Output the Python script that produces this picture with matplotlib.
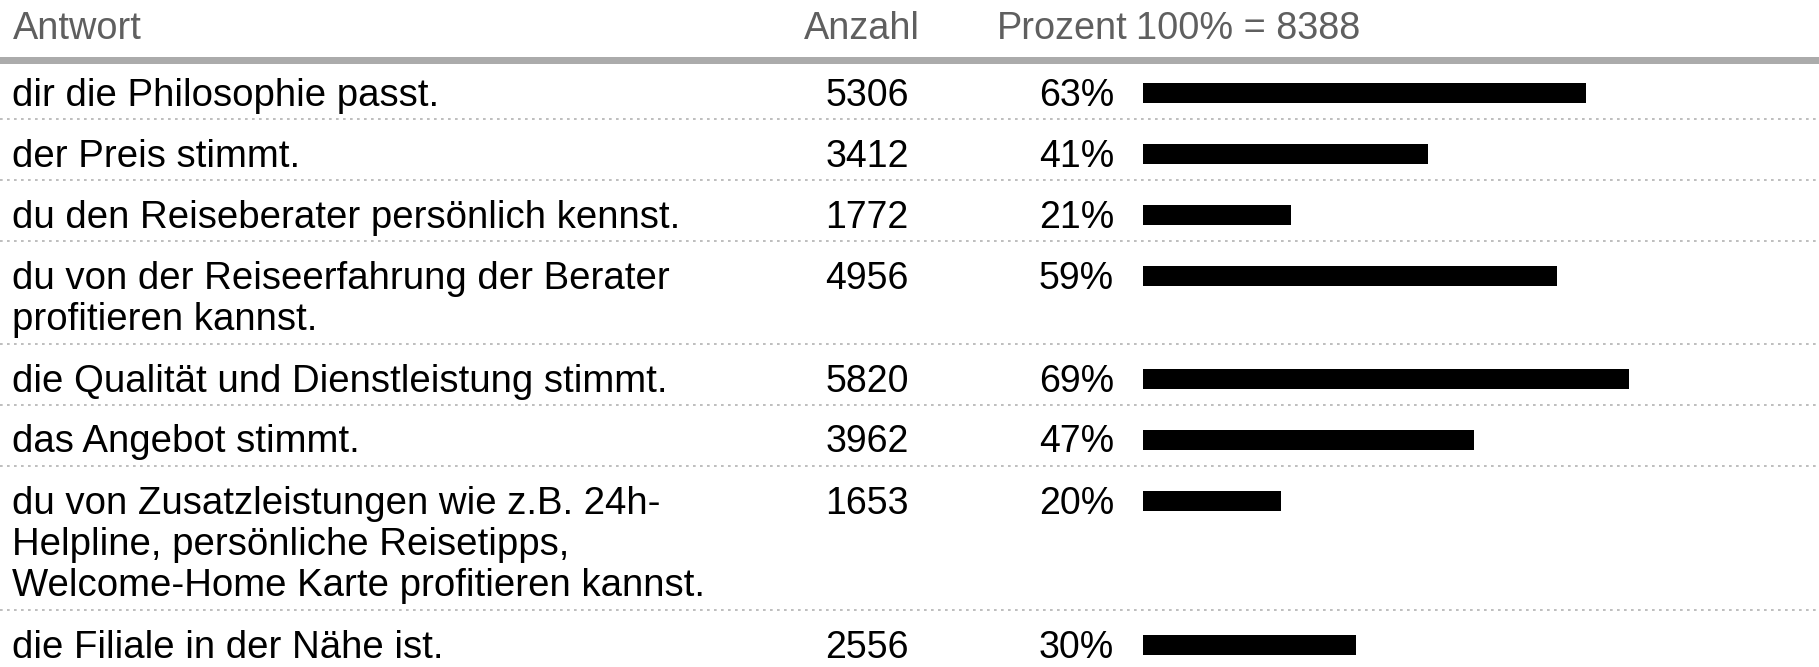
import matplotlib
matplotlib.use("Agg")
import matplotlib.pyplot as plt

# ---- data ----
answers = [
    "dir die Philosophie passt.",
    "der Preis stimmt.",
    "du den Reiseberater persönlich kennst.",
    "du von der Reiseerfahrung der Berater\nprofitieren kannst.",
    "die Qualität und Dienstleistung stimmt.",
    "das Angebot stimmt.",
    "du von Zusatzleistungen wie z.B. 24h-\nHelpline, persönliche Reisetipps,\nWelcome-Home Karte profitieren kannst.",
    "die Filiale in der Nähe ist.",
]
counts = [5306, 3412, 1772, 4956, 5820, 3962, 1653, 2556]
total = 8388
headers = ["Antwort", "Anzahl", "Prozent", "100% = 8388"]

# ---- layout (pixels) ----
W, H = 1819, 667
DPI = 100
FS = 27
FS_LBL = 27.6
FS_HDR = 27.3
FONT = "Liberation Sans"
LINE_H = 41.5
PAD = 19.5
FIRST_TOP = 58
BAR_LEFT = 1143
PX_PER_PCT = 7.0
BAR_H = 20

fig = plt.figure(figsize=(W / DPI, H / DPI), dpi=DPI)
ax = fig.add_axes([0, 0, 1, 1])
ax.set_xlim(0, W)
ax.set_ylim(H, 0)
ax.axis("off")

bax = fig.add_axes([BAR_LEFT / W, 0, (W - BAR_LEFT) / W, 1])
bax.set_xlim(0, (W - BAR_LEFT) / PX_PER_PCT)
bax.set_ylim(H, 0)
bax.axis("off")
bax.patch.set_alpha(0)

# header
hdr_base = 39
hcol = "#5f5f5f"
ax.text(13, hdr_base, headers[0], fontsize=FS_HDR, family=FONT, color=hcol, va="baseline", ha="left")
ax.text(862, hdr_base, headers[1], fontsize=FS_HDR, family=FONT, color=hcol, va="baseline", ha="center")
ax.text(1128, hdr_base, headers[2], fontsize=FS_HDR, family=FONT, color=hcol, va="baseline", ha="right")
ax.text(1136, hdr_base, headers[3], fontsize=FS_HDR, family=FONT, color=hcol, va="baseline", ha="left")
ax.axhline(59.5, color="#ababab", lw=7 * 72 / DPI, xmin=0, xmax=1)

# rows
top = FIRST_TOP
pcts = [c / total * 100 for c in counts]
row_centers = []
for i, (ans, c, p) in enumerate(zip(answers, counts, pcts)):
    lines = ans.split("\n")
    base = top + 48
    for j, ln in enumerate(lines):
        ax.text(12, base + j * LINE_H, ln, fontsize=FS_LBL, family=FONT, color="black",
                va="baseline", ha="left")
    ax.text(867, base, str(c), fontsize=FS, family=FONT, color="black", va="baseline", ha="center")
    ax.text(1114, base, f"{round(p)}%", fontsize=FS, family=FONT, color="black", va="baseline", ha="right")
    row_centers.append(top + 35)
    top = top + PAD + LINE_H * len(lines)
    if i < len(answers) - 1:
        ax.plot([0, W], [top, top], color="#b3b3b3", lw=1.2,
                linestyle=(0, (1.6, 2.6)), solid_capstyle="butt", dash_capstyle="butt")

bax.barh(row_centers, pcts, height=BAR_H, left=0, color="black", edgecolor="none")

fig.savefig("out.png", dpi=DPI, facecolor="white")
